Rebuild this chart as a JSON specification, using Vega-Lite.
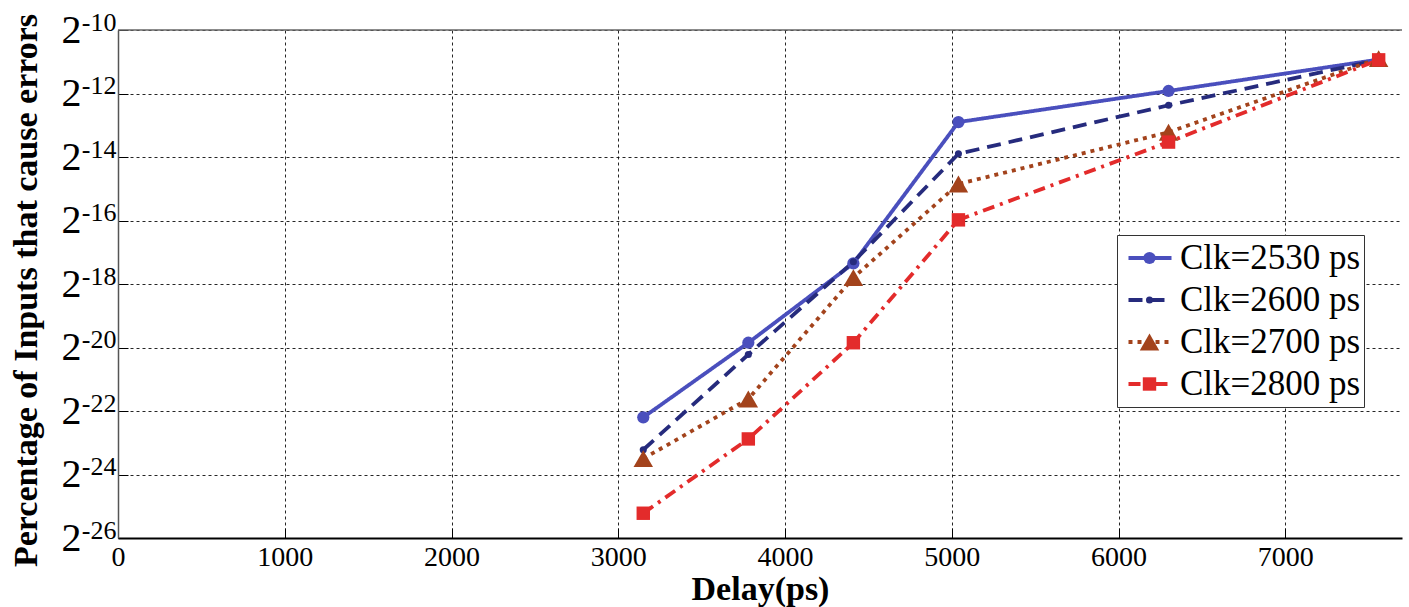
{
  "$schema": "https://vega.github.io/schema/vega-lite/v6.json",
  "width": 1284,
  "height": 508,
  "autosize": {"type": "none"},
  "padding": {"left": 118, "top": 30, "right": 7, "bottom": 69},
  "background": "white",
  "config": {"view": {"stroke": null}, "font": "Liberation Serif"},
  "data": {
    "values": [
      {"series": "Clk=2530 ps", "delay": 3150, "exponent": -22.2},
      {"series": "Clk=2530 ps", "delay": 3780, "exponent": -19.85},
      {"series": "Clk=2530 ps", "delay": 4410, "exponent": -17.35},
      {"series": "Clk=2530 ps", "delay": 5040, "exponent": -12.9},
      {"series": "Clk=2530 ps", "delay": 6300, "exponent": -11.92},
      {"series": "Clk=2530 ps", "delay": 7560, "exponent": -10.93},
      {"series": "Clk=2600 ps", "delay": 3150, "exponent": -23.22},
      {"series": "Clk=2600 ps", "delay": 3780, "exponent": -20.22},
      {"series": "Clk=2600 ps", "delay": 4410, "exponent": -17.3},
      {"series": "Clk=2600 ps", "delay": 5040, "exponent": -13.9},
      {"series": "Clk=2600 ps", "delay": 6300, "exponent": -12.37},
      {"series": "Clk=2600 ps", "delay": 7560, "exponent": -10.94},
      {"series": "Clk=2700 ps", "delay": 3150, "exponent": -23.5},
      {"series": "Clk=2700 ps", "delay": 3780, "exponent": -21.62},
      {"series": "Clk=2700 ps", "delay": 4410, "exponent": -17.8},
      {"series": "Clk=2700 ps", "delay": 5040, "exponent": -14.85},
      {"series": "Clk=2700 ps", "delay": 6300, "exponent": -13.22},
      {"series": "Clk=2700 ps", "delay": 7560, "exponent": -10.9},
      {"series": "Clk=2800 ps", "delay": 3150, "exponent": -25.22},
      {"series": "Clk=2800 ps", "delay": 3780, "exponent": -22.88},
      {"series": "Clk=2800 ps", "delay": 4410, "exponent": -19.85},
      {"series": "Clk=2800 ps", "delay": 5040, "exponent": -15.98},
      {"series": "Clk=2800 ps", "delay": 6300, "exponent": -13.53},
      {"series": "Clk=2800 ps", "delay": 7560, "exponent": -10.94}
    ]
  },
  "resolve": {"axis": {"y": "independent"}},
  "layer": [
    {
      "data": {"values": [{"top": -10}]},
      "mark": {"type": "rule", "color": "#666666", "strokeWidth": 1.5},
      "encoding": {"y": {"field": "top", "type": "quantitative", "axis": null}}
    },
    {
      "mark": {"type": "line", "strokeWidth": 3.8, "strokeCap": "butt"},
      "encoding": {
        "x": {
          "field": "delay",
          "type": "quantitative",
          "scale": {"domain": [0, 7700], "nice": false, "zero": false},
          "axis": {
            "values": [0, 1000, 2000, 3000, 4000, 5000, 6000, 7000],
            "format": "d",
            "title": "Delay(ps)",
            "labelFont": "Liberation Serif",
            "labelFontSize": 28,
            "labelColor": "#000000",
            "labelFlush": false,
            "labelOverlap": false,
            "labelPadding": 15,
            "tickSize": -10,
            "tickColor": "#000000",
            "domainColor": "#000000",
            "domainWidth": 2,
            "grid": true,
            "gridDash": [3, 3],
            "gridColor": "#000000",
            "gridOpacity": 0.85,
            "titleFont": "Liberation Serif",
            "titleFontWeight": "bold",
            "titleFontSize": 34,
            "titleColor": "#000000",
            "titleX": 642,
            "titleY": 61,
            "titleBaseline": "alphabetic"
          }
        },
        "y": {
          "field": "exponent",
          "type": "quantitative",
          "scale": {"domain": [-26, -10], "nice": false, "zero": false},
          "axis": {
            "values": [-26, -24, -22, -20, -18, -16, -14, -12, -10],
            "labelExpr": "'2'",
            "labelFont": "Liberation Serif",
            "labelFontSize": 40,
            "labelColor": "#000000",
            "labelBaseline": "middle",
            "labelAlign": "right",
            "labelFlush": false,
            "labelOverlap": false,
            "labelPadding": 47,
            "tickSize": -10,
            "tickColor": "#000000",
            "domainColor": "#555555",
            "domainWidth": 1.5,
            "grid": true,
            "gridDash": [3, 3],
            "gridColor": "#000000",
            "gridOpacity": 0.85,
            "title": "Percentage of Inputs that cause errors",
            "titleFont": "Liberation Serif",
            "titleFontWeight": "bold",
            "titleFontSize": 34,
            "titleColor": "#000000",
            "titleX": -82,
            "titleY": 260,
            "titleAngle": -90,
            "titleAlign": "center",
            "titleBaseline": "alphabetic"
          }
        },
        "stroke": {
          "field": "series",
          "type": "nominal",
          "scale": {"range": ["#4a4fbd", "#262b7d", "#a3431c", "#e32b2b"]},
          "legend": {
            "orient": "none", "legendX": 999, "legendY": 205, "title": null,
            "padding": 3, "symbolOffset": 6, "clipHeight": 40, "symbolType": "stroke", "symbolSize": 1850, "symbolStrokeWidth": 4,
            "labelFont": "Liberation Serif", "labelFontSize": 35, "labelColor": "#000000",
            "labelOffset": 6, "rowPadding": 2, "strokeColor": "#333333", "fillColor": "white",
            "zindex": 1, "labelLimit": 0
          }
        },
        "strokeDash": {
          "field": "series",
          "type": "nominal",
          "scale": {"range": [[1, 0], [14, 8], [4, 5], [12, 6, 3, 6]]},
          "legend": {
            "orient": "none", "legendX": 999, "legendY": 205, "title": null,
            "padding": 3, "symbolOffset": 6, "clipHeight": 40, "symbolType": "stroke", "symbolSize": 1850, "symbolStrokeWidth": 4,
            "labelFont": "Liberation Serif", "labelFontSize": 35, "labelColor": "#000000",
            "labelOffset": 6, "rowPadding": 2, "strokeColor": "#333333", "fillColor": "white",
            "zindex": 1, "labelLimit": 0
          }
        }
      }
    },
    {
      "mark": {"type": "point", "filled": true, "opacity": 1, "strokeWidth": 0},
      "encoding": {
        "x": {"field": "delay", "type": "quantitative"},
        "y": {
          "field": "exponent",
          "type": "quantitative",
          "axis": {
            "orient": "left",
            "values": [-26, -24, -22, -20, -18, -16, -14, -12, -10],
            "labelExpr": "'-' + (-datum.value)",
            "labelFont": "Liberation Serif",
            "labelFontSize": 26,
            "labelColor": "#000000",
            "labelBaseline": "alphabetic",
            "labelAlign": "right",
            "labelDy": -1,
            "labelFlush": false,
            "labelOverlap": false,
            "labelPadding": 12,
            "tickSize": -10,
            "tickOpacity": 0,
            "domain": false,
            "grid": false,
            "title": null
          }
        },
        "fill": {
          "field": "series",
          "type": "nominal",
          "scale": {"domain": ["Clk=2530 ps", "Clk=2600 ps", "Clk=2700 ps", "Clk=2800 ps"], "range": ["#4a4fbd", "#262b7d", "#a3431c", "#e32b2b"]},
          "legend": {
            "orient": "none", "legendX": 999, "legendY": 205, "title": null,
            "padding": 3, "symbolOffset": 12, "clipHeight": 40, "symbolStrokeWidth": 0,
            "labelExpr": "''", "labelFontSize": 35, "labelOffset": 6, "rowPadding": 2, "zindex": 2
          }
        },
        "shape": {
          "field": "series",
          "type": "nominal",
          "scale": {"domain": ["Clk=2530 ps", "Clk=2600 ps", "Clk=2700 ps", "Clk=2800 ps"], "range": ["circle", "circle", "triangle-up", "square"]},
          "legend": {
            "orient": "none", "legendX": 999, "legendY": 205, "title": null,
            "padding": 3, "symbolOffset": 12, "clipHeight": 40, "symbolStrokeWidth": 0,
            "labelExpr": "''", "labelFontSize": 35, "labelOffset": 6, "rowPadding": 2, "zindex": 2
          }
        },
        "size": {
          "field": "series",
          "type": "nominal",
          "scale": {"type": "ordinal", "domain": ["Clk=2530 ps", "Clk=2600 ps", "Clk=2700 ps", "Clk=2800 ps"], "range": [150, 50, 380, 180]},
          "legend": {
            "orient": "none", "legendX": 999, "legendY": 205, "title": null,
            "padding": 3, "symbolOffset": 12, "clipHeight": 40, "symbolStrokeWidth": 0,
            "labelExpr": "''", "labelFontSize": 35, "labelOffset": 6, "rowPadding": 2, "zindex": 2
          }
        }
      }
    }
  ]
}
